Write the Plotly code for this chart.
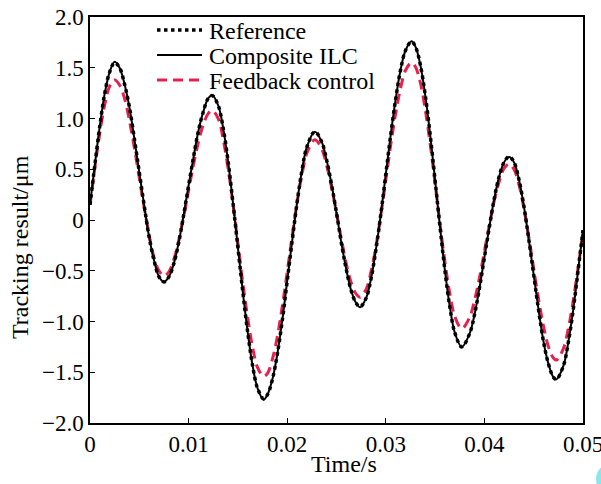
import plotly.graph_objects as go

# Time samples (s)
time_s = [0, .0005, .001, .0015, .002, .0025, .003, .0035, .004, .0045, .005, .0055, .006, .0065, .007, .0075,
          .008, .0085, .009, .0095, .010, .0105, .011, .0115, .012, .0124,
          .013, .0135, .014, .0145, .015, .0155, .016, .0165, .017, .0176,
          .018, .0185, .019, .0195, .020, .0205, .021, .0215, .022, .0228,
          .0235, .024, .0245, .025, .0255, .026, .0265, .027, .0274,
          .028, .0285, .029, .0295, .030, .0305, .031, .0315, .032, .0326,
          .033, .0335, .034, .0345, .035, .0355, .036, .0365, .037, .0377,
          .0385, .039, .0395, .040, .0405, .041, .0415, .042, .0425,
          .043, .0435, .044, .0445, .045, .0455, .046, .0465, .047, .0473,
          .048, .0485, .049, .0495, .050]

reference = [0.15, 0.55, 0.93, 1.25, 1.46, 1.55, 1.50, 1.34, 1.11, 0.80, 0.47, 0.14, -0.17, -0.40, -0.56, -0.61,
             -0.56, -0.43, -0.22, 0.05, 0.34, 0.62, 0.88, 1.07, 1.20, 1.225,
             1.13, 0.91, 0.58, 0.17, -0.27, -0.71, -1.11, -1.44, -1.66, -1.76,
             -1.72, -1.57, -1.32, -0.99, -0.60, -0.21, 0.17, 0.49, 0.72, 0.87,
             0.77, 0.59, 0.35, 0.07, -0.23, -0.49, -0.70, -0.82, -0.855,
             -0.77, -0.58, -0.29, 0.06, 0.45, 0.84, 1.19, 1.48, 1.67, 1.757,
             1.71, 1.53, 1.23, 0.84, 0.39, -0.07, -0.50, -0.86, -1.11, -1.25,
             -1.12, -0.93, -0.67, -0.37, -0.07, 0.21, 0.43, 0.57, 0.624,
             0.57, 0.40, 0.14, -0.19, -0.54, -0.89, -1.20, -1.42, -1.55, -1.57,
             -1.44, -1.21, -0.89, -0.50, -0.10]

composite_ilc = [0.15, 0.55, 0.93, 1.25, 1.46, 1.56, 1.50, 1.34, 1.11, 0.80, 0.47, 0.14, -0.17, -0.40, -0.56, -0.61,
                 -0.56, -0.43, -0.22, 0.05, 0.34, 0.62, 0.88, 1.07, 1.20, 1.23,
                 1.13, 0.91, 0.58, 0.17, -0.27, -0.71, -1.11, -1.44, -1.66, -1.77,
                 -1.72, -1.57, -1.32, -0.99, -0.60, -0.21, 0.17, 0.49, 0.72, 0.87,
                 0.77, 0.59, 0.35, 0.07, -0.23, -0.49, -0.70, -0.82, -0.86,
                 -0.77, -0.58, -0.29, 0.06, 0.45, 0.84, 1.19, 1.48, 1.67, 1.76,
                 1.71, 1.53, 1.23, 0.84, 0.39, -0.07, -0.50, -0.86, -1.11, -1.25,
                 -1.12, -0.93, -0.67, -0.37, -0.07, 0.21, 0.43, 0.57, 0.62,
                 0.57, 0.40, 0.14, -0.19, -0.54, -0.89, -1.20, -1.42, -1.55, -1.57,
                 -1.44, -1.21, -0.89, -0.50, -0.10]

feedback = [0.15, 0.52, 0.86, 1.14, 1.32, 1.38, 1.33, 1.20, 0.98, 0.71, 0.415, 0.12, -0.15, -0.37, -0.50, -0.55,
            -0.51, -0.39, -0.20, 0.03, 0.29, 0.55, 0.77, 0.945, 1.05, 1.08,
            1.00, 0.80, 0.51, 0.16, -0.23, -0.62, -0.97, -1.26, -1.455, -1.54,
            -1.51, -1.37, -1.15, -0.85, -0.515, -0.16, 0.17, 0.45, 0.66, 0.79,
            0.70, 0.54, 0.32, 0.07, -0.19, -0.435, -0.62, -0.73, -0.76,
            -0.685, -0.51, -0.26, 0.05, 0.395, 0.74, 1.05, 1.30, 1.475, 1.55,
            1.51, 1.355, 1.09, 0.75, 0.36, -0.04, -0.415, -0.73, -0.95, -1.07,
            -0.96, -0.79, -0.57, -0.31, -0.05, 0.19, 0.38, 0.51, 0.55,
            0.50, 0.35, 0.12, -0.165, -0.48, -0.785, -1.05, -1.25, -1.36, -1.38,
            -1.27, -1.075, -0.80, -0.47, -0.13]

series_names = ["Reference", "Composite ILC", "Feedback control"]

x_ticks = [0, 0.01, 0.02, 0.03, 0.04, 0.05]
x_labels = ["0", "0.01", "0.02", "0.03", "0.04", "0.05"]
y_ticks = [2.0, 1.5, 1.0, 0.5, 0, -0.5, -1.0, -1.5, -2.0]
y_labels = ["2.0", "1.5", "1.0", "0.5", "0", "\u22120.5", "\u22121.0", "\u22121.5", "\u22122.0"]

FONT = "Liberation Serif, Times New Roman, serif"
RED = "#e8204e"

# plot-area geometry (pixels)
W, H = 601, 484
L, R, T, B = 90, 18, 17, 61
PW, PH = W - L - R, H - T - B


def px(xp):
    return (xp - L) / PW


def py(yp):
    return (H - B - yp) / PH


styles = [
    dict(color="black", width=3.5, dash="dot"),
    dict(color="black", width=2),
    dict(color=RED, width=3, dash="10px,6px"),
]

fig = go.Figure()
fig.add_trace(go.Scatter(x=time_s, y=feedback, mode="lines", name=series_names[2],
                         line=dict(**styles[2], shape="spline")))
fig.add_trace(go.Scatter(x=time_s, y=composite_ilc, mode="lines", name=series_names[1],
                         line=dict(**styles[1], shape="spline")))
fig.add_trace(go.Scatter(x=time_s, y=reference, mode="lines", name=series_names[0],
                         line=dict(**styles[0], shape="spline")))

shapes = []
annotations = []
legend_rows = [30, 55, 80]
for name, st, yrow in zip(series_names, styles, legend_rows):
    shapes.append(dict(type="line", xref="paper", yref="paper",
                       x0=px(157), x1=px(202), y0=py(yrow), y1=py(yrow),
                       line=dict(color=st["color"], width=st["width"], dash=st.get("dash", "solid"))))
    annotations.append(dict(text=name, xref="paper", yref="paper", x=px(207), y=py(yrow + 1),
                            xanchor="left", yanchor="middle", showarrow=False,
                            font=dict(family=FONT, size=24, color="black")))

annotations.append(dict(text="Time/s", xref="paper", yref="paper", x=px(343.5), y=py(464),
                        xanchor="center", yanchor="middle", showarrow=False,
                        font=dict(family=FONT, size=24, color="black")))
annotations.append(dict(text="Tracking result/\u03bcm", xref="paper", yref="paper", x=px(20), y=py(247),
                        xanchor="center", yanchor="middle", showarrow=False, textangle=-90,
                        font=dict(family=FONT, size=24, color="black")))

shapes.append(dict(type="circle", xref="paper", yref="paper",
                   x0=px(596), x1=px(624), y0=py(494), y1=py(464),
                   fillcolor="#8fe3ec", line=dict(width=0), layer="above"))

fig.update_layout(
    width=W, height=H,
    margin=dict(l=L, r=R, t=T, b=B, autoexpand=False),
    paper_bgcolor="white", plot_bgcolor="white",
    font=dict(family=FONT, size=23, color="black"),
    showlegend=False,
    shapes=shapes,
    annotations=annotations,
)
fig.update_xaxes(range=[0, 0.05], tickmode="array", tickvals=x_ticks, ticktext=x_labels,
                 ticks="inside", ticklen=5, tickwidth=1.2, tickcolor="black",
                 showline=True, linecolor="black", linewidth=1.5, mirror=True,
                 showgrid=False, zeroline=False, automargin=False,
                 ticklabeloverflow="allow",
                 tickfont=dict(family=FONT, size=23))
fig.update_yaxes(range=[-2, 2], tickmode="array", tickvals=y_ticks, ticktext=y_labels,
                 ticks="inside", ticklen=5, tickwidth=1.2, tickcolor="black",
                 showline=True, linecolor="black", linewidth=1.5, mirror=True,
                 showgrid=False, zeroline=False, automargin=False,
                 ticklabeloverflow="allow",
                 tickfont=dict(family=FONT, size=23))

fig.write_html("out.html")
